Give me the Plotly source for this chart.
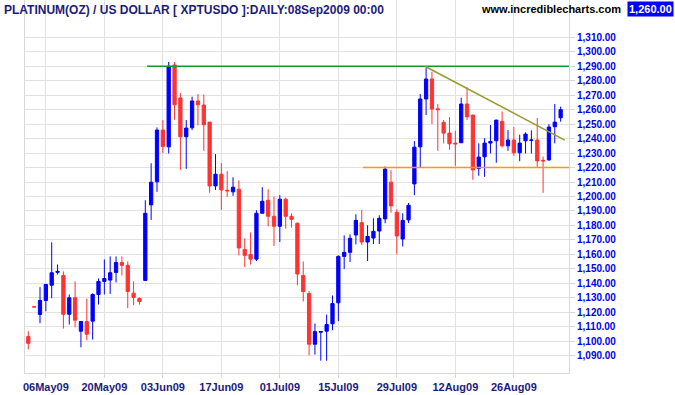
import plotly.graph_objects as go
import pandas as pd

# ---- data ----
dates = [d.strftime("%Y-%m-%d") for d in pd.bdate_range("2009-05-01", "2009-09-08") if d.strftime("%Y-%m-%d") != "2009-09-07"]

opens = [1103.2, 1123.8, 1118.4, 1128.1, 1138.7, 1147.6, 1145.4, 1118.6, 1130.0, 1106.9,
         1113.6, 1113.8, 1132.3, 1141.3, 1142.2, 1147.5, 1154.4, 1152.4, 1133.2, 1129.5,
         1142.0, 1194.2, 1210.1, 1245.9, 1234.3, 1290.9, 1268.1, 1241.3, 1247.5, 1266.0,
         1263.2, 1251.4, 1207.3, 1215.4, 1204.3, 1203.2, 1205.0, 1163.4, 1160.0, 1156.7,
         1188.4, 1197.4, 1186.3, 1179.4, 1198.1, 1186.3, 1181.5, 1145.4, 1133.0, 1097.9,
         1106.2, 1106.9, 1112.0, 1126.5, 1158.6, 1161.4, 1173.4, 1181.9, 1168.5, 1171.3,
         1176.1, 1184.5, 1209.9, 1189.1, 1170.6, 1183.8, 1208.7, 1234.3, 1267.4, 1281.2,
         1260.6, 1251.2, 1243.8, 1236.9, 1237.1, 1263.9, 1256.3, 1219.3, 1227.4, 1236.9,
         1238.5, 1251.9, 1235.0, 1239.0, 1230.2, 1238.5, 1238.7, 1239.0, 1225.0, 1225.3,
         1248.2, 1254.4]
highs = [1106.9, 1123.8, 1137.3, 1139.2, 1168.3, 1153.0, 1148.2, 1132.3, 1141.3, 1113.6,
         1129.5, 1133.0, 1143.3, 1156.5, 1158.6, 1158.6, 1158.6, 1155.0, 1141.3, 1130.2,
         1197.4, 1223.0, 1247.7, 1252.8, 1293.0, 1293.0, 1271.5, 1252.8, 1269.0, 1270.8,
         1270.4, 1251.4, 1229.3, 1223.0, 1217.5, 1213.3, 1211.2, 1171.1, 1175.2, 1190.5,
         1206.4, 1205.0, 1199.9, 1200.9, 1199.2, 1188.4, 1182.1, 1155.1, 1134.6, 1112.2,
         1106.9, 1118.4, 1131.6, 1159.3, 1173.1, 1173.8, 1187.7, 1190.7, 1180.1, 1184.9,
         1187.0, 1220.7, 1218.2, 1191.2, 1188.4, 1195.5, 1238.3, 1270.8, 1288.8, 1286.3,
         1263.9, 1252.8, 1254.9, 1245.4, 1268.3, 1275.5, 1256.3, 1236.7, 1240.3, 1249.4,
         1253.0, 1258.8, 1245.9, 1248.0, 1242.7, 1244.3, 1245.7, 1254.2, 1227.6, 1250.0,
         1263.9, 1262.1]
lows = [1094.4, 1123.6, 1112.4, 1120.7, 1129.7, 1146.1, 1108.7, 1111.5, 1109.6, 1095.8,
        1100.6, 1101.1, 1125.3, 1132.3, 1132.7, 1140.6, 1145.4, 1122.8, 1124.9, 1125.3,
        1141.5, 1183.8, 1203.2, 1230.0, 1229.7, 1253.0, 1218.4, 1219.1, 1245.9, 1249.1,
        1231.6, 1202.5, 1204.5, 1190.7, 1199.7, 1200.4, 1159.3, 1151.2, 1153.0, 1155.4,
        1188.4, 1179.4, 1165.8, 1168.5, 1177.8, 1178.5, 1138.7, 1127.4, 1090.2, 1090.7,
        1086.5, 1086.5, 1107.6, 1113.8, 1149.8, 1154.7, 1166.9, 1166.4, 1155.4, 1167.1,
        1167.1, 1181.5, 1188.8, 1160.0, 1165.5, 1181.7, 1200.9, 1220.0, 1256.3, 1250.0,
        1231.6, 1236.7, 1232.3, 1221.2, 1237.1, 1252.8, 1211.5, 1214.3, 1213.6, 1229.7,
        1223.3, 1233.9, 1231.6, 1228.1, 1224.4, 1229.7, 1229.7, 1220.5, 1202.5, 1224.6,
        1236.7, 1251.7]
closes = [1098.5, 1123.6, 1128.1, 1139.2, 1147.3, 1148.2, 1118.6, 1130.0, 1114.5, 1113.6,
          1104.8, 1132.3, 1141.3, 1143.3, 1147.3, 1154.4, 1152.4, 1134.3, 1130.2, 1127.4,
          1188.4, 1209.9, 1245.9, 1234.6, 1290.0, 1263.4, 1241.3, 1247.3, 1266.0, 1263.4,
          1249.6, 1207.3, 1215.4, 1204.5, 1203.9, 1206.4, 1164.4, 1159.3, 1156.7, 1188.4,
          1196.7, 1186.3, 1179.4, 1198.1, 1186.3, 1184.2, 1146.4, 1134.3, 1097.9, 1106.6,
          1106.6, 1111.5, 1126.0, 1158.6, 1161.4, 1171.1, 1183.5, 1168.5, 1172.4, 1175.9,
          1184.9, 1218.9, 1193.5, 1172.7, 1183.5, 1193.9, 1234.1, 1267.4, 1281.2, 1260.4,
          1260.0, 1243.8, 1236.4, 1236.4, 1263.9, 1255.1, 1218.4, 1227.2, 1236.9, 1238.0,
          1252.8, 1235.0, 1239.0, 1230.2, 1236.9, 1243.1, 1239.0, 1224.6, 1224.6, 1248.0,
          1251.4, 1260.0]

tick_dates = ["2009-05-06", "2009-05-20", "2009-06-03", "2009-06-17", "2009-07-01",
              "2009-07-15", "2009-07-29", "2009-08-12", "2009-08-26"]
tick_labels = ["06May09", "20May09", "03Jun09", "17Jun09", "01Jul09",
               "15Jul09", "29Jul09", "12Aug09", "26Aug09"]
y_ticks = list(range(1090, 1311, 10))

# trend lines: (start index, start price, end index, end price)
resistance = (20.3, 1290.0, 92.43, 1290.0)
support = (57.2, 1220.0, 92.43, 1220.0)
downtrend = (67.8, 1290.0, 91.7, 1239.0)

xs = list(range(len(dates)))
tick_pos = [dates.index(d) for d in tick_dates]

fig = go.Figure(go.Candlestick(
    x=xs, open=opens, high=highs, low=lows, close=closes,
    increasing=dict(line=dict(color="#0000ff", width=1), fillcolor="#0000ff"),
    decreasing=dict(line=dict(color="#ff3333", width=1), fillcolor="#ff3333"),
    whiskerwidth=0, hoverinfo="skip", showlegend=False,
))

for (x0, y0, x1, y1), col, w in [(resistance, "#109a30", 1.5), (support, "#ff9900", 1.5),
                                   (downtrend, "#9a9a30", 1.5)]:
    fig.add_shape(type="line", xref="x", yref="y", x0=x0, y0=y0, x1=x1, y1=y1,
                  line=dict(color=col, width=w))

navy = "#1c1c78"
fig.update_layout(
    width=675, height=395,
    margin=dict(l=25, r=106, t=0, b=22),
    paper_bgcolor="white", plot_bgcolor="white",
    showlegend=False, boxgap=0.2,
    xaxis=dict(range=[-0.564, 92.43], rangeslider=dict(visible=False),
               tickmode="array", tickvals=tick_pos, ticktext=tick_labels,
               showgrid=True, gridcolor="#e2e2e2", gridwidth=1, zeroline=False,
               ticks="outside", ticklen=4, tickcolor="#d8d8d8",
               showline=True, linecolor="#d8d8d8", linewidth=1,
               tickfont=dict(family="Liberation Sans", size=11, color=navy, weight="bold")),
    yaxis=dict(side="right", range=[1078, 1335.8], tickmode="array", tickvals=y_ticks,
               tickformat=",.2f", showgrid=True, gridcolor="#e2e2e2", gridwidth=1,
               zeroline=False, ticks="outside", ticklen=5, tickcolor="#d8d8d8",
               showline=True, linecolor="#d8d8d8", linewidth=1, mirror=True,
               tickfont=dict(family="Liberation Sans", size=10, color="#0000ee", weight="bold")),
    annotations=[
        dict(text="PLATINUM(OZ) / US DOLLAR [ XPTUSDO ]:DAILY:08Sep2009 00:00",
             xref="paper", yref="paper", x=0, y=1, xanchor="left", yanchor="top",
             xshift=-23, yshift=-1, showarrow=False,
             font=dict(family="Liberation Sans", size=12, color=navy, weight="bold")),
        dict(text="www.incrediblecharts.com", xref="paper", yref="paper",
             x=(622.7 - 25) / 544, y=1, xanchor="right", yanchor="top", yshift=-1,
             showarrow=False,
             font=dict(family="Liberation Sans", size=11, color="black", weight="bold")),
        dict(text=f"{closes[-1]:,.2f}", xref="paper", yref="paper",
             x=(673.5 - 25) / 544, y=1, xanchor="right", yanchor="top", yshift=-1,
             showarrow=False, bgcolor="#0000ff", borderpad=1,
             font=dict(family="Liberation Sans", size=11, color="white", weight="bold")),
    ],
)

fig.write_html("out.html", config={"displayModeBar": False},
               post_script="document.body.style.margin='0px';")
